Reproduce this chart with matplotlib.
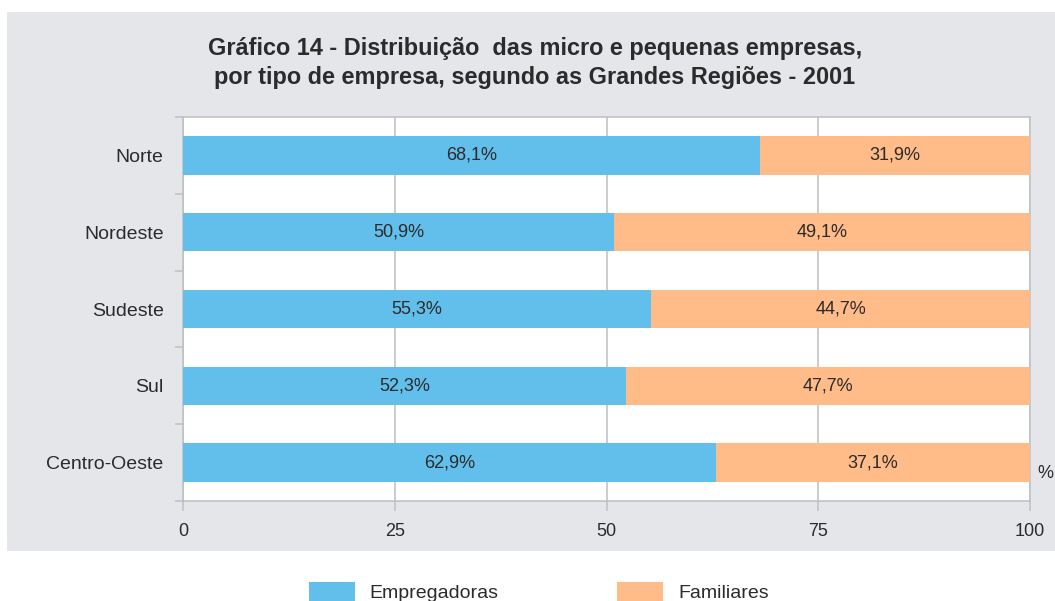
import matplotlib
matplotlib.use('Agg')
import matplotlib.pyplot as plt
from matplotlib.patches import Rectangle
import numpy as np

plt.rcParams['font.family'] = ['Liberation Sans', 'DejaVu Sans']

# Dados
regioes = ['Norte', 'Nordeste', 'Sudeste', 'Sul', 'Centro-Oeste']
empregadoras = [68.1, 50.9, 55.3, 52.3, 62.9]
familiares = [31.9, 49.1, 44.7, 47.7, 37.1]
xticks = [0, 25, 50, 75, 100]

azul = '#62BEEA'
laranja = '#FFBB88'
cinza = '#BEBFC4'
texto = '#2B2B2B'
fundo = '#E5E6EA'

fig = plt.figure(figsize=(10.55, 6.01), dpi=100, facecolor='white')

# painel cinza de fundo
fig.patches.append(Rectangle((7 / 1055, 1 - 551 / 601), 1, 539 / 601,
                             transform=fig.transFigure, facecolor=fundo,
                             edgecolor='none', zorder=-10))

ax = fig.add_axes([183 / 1055, 1 - 501 / 601, 847 / 1055, 384 / 601])
ax.set_facecolor('white')

y = np.arange(len(regioes))
b1 = ax.barh(y, empregadoras, height=0.5, color=azul, label='Empregadoras', zorder=3)
b2 = ax.barh(y, familiares, height=0.5, left=empregadoras, color=laranja,
             label='Familiares', zorder=3)

def fmt(vals):
    return [f'{v:.1f}%'.replace('.', ',') for v in vals]

ax.bar_label(b1, labels=fmt(empregadoras), label_type='center', fontsize=13, color=texto)
ax.bar_label(b2, labels=fmt(familiares), label_type='center', fontsize=13, color=texto)

ax.set_xlim(0, 100)
ax.set_ylim(len(regioes) - 0.5, -0.5)

ax.set_xticks(xticks)
ax.set_xticklabels([str(t) for t in xticks], fontsize=13, color=texto)
ax.tick_params(axis='x', length=7, width=1.1, color=cinza, pad=9)

ax.set_yticks(y)
ax.set_yticklabels(regioes, fontsize=14, color=texto)
ax.tick_params(axis='y', which='major', length=0, pad=14)
ax.set_yticks(np.arange(-0.5, len(regioes)), minor=True)
ax.tick_params(axis='y', which='minor', length=6, width=1.1, color=cinza)

ax.grid(axis='x', color=cinza, linewidth=1.1, zorder=0)
ax.set_axisbelow(True)
for s in ax.spines.values():
    s.set_color(cinza)
    s.set_linewidth(1.1)

fig.text(1045 / 1055, 1 - 473 / 601, '%', fontsize=13, color=texto, ha='center', va='center')

fig.text(535 / 1055, 1 - 63 / 601,
         'Gráfico 14 - Distribuição  das micro e pequenas empresas,\n'
         'por tipo de empresa, segundo as Grandes Regiões - 2001',
         fontsize=16.9, fontweight='bold', color=texto, ha='center', va='center',
         linespacing=1.35)

fig.legend(handles=[b1, b2], loc='upper left',
           bbox_to_anchor=(299 / 1055, 1 - 572 / 601), ncol=2, frameon=False,
           fontsize=14, borderpad=0, handlelength=2.37, handleheight=1.2,
           handletextpad=0.77, columnspacing=6.1, labelcolor=texto)

fig.savefig('out.png', dpi=100, facecolor='white')
